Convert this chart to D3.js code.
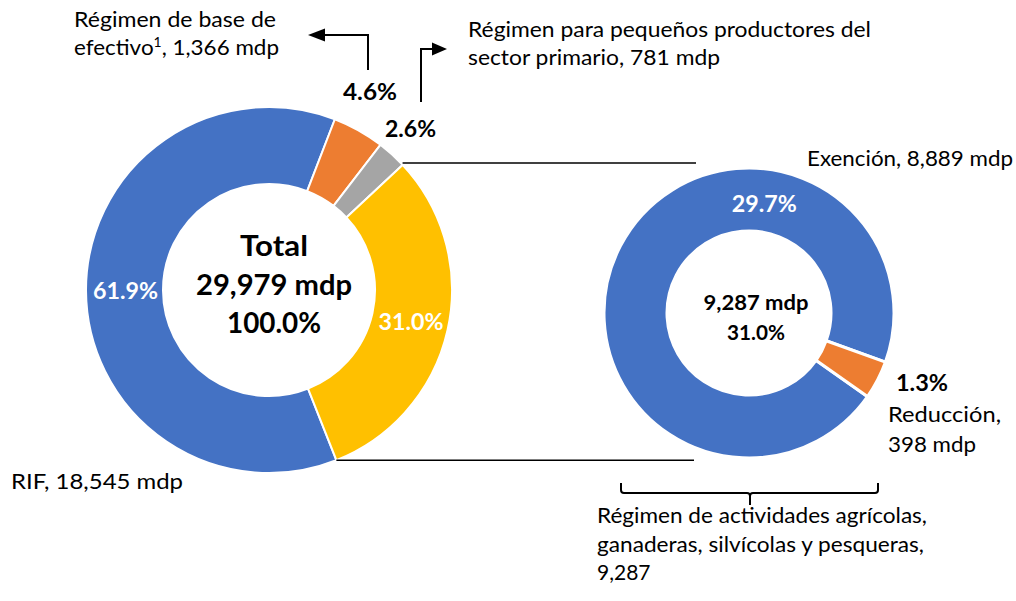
<!DOCTYPE html>
<html><head><meta charset="utf-8">
<script src="https://cdn.jsdelivr.net/npm/d3@7"></script>
<style>
html,body{margin:0;padding:0;background:#fff;}
svg{display:block;font-family:Lato,"Noto Sans",sans-serif;}
</style></head>
<body>
<svg id="chart" width="1016" height="601"></svg>
<script>
// ---- data ----
const leftCategories = ["RIF", "Régimen de base de efectivo", "Régimen para pequeños productores del sector primario", "Régimen de actividades agrícolas, ganaderas, silvícolas y pesqueras"];
const leftValues = [18545, 1366, 781, 9287];
const leftPercents = ["61.9%", "4.6%", "2.6%", "31.0%"];
const leftTotal = 29979;
const leftTotalPct = "100.0%";
const rightCategories = ["Exención", "Reducción"];
const rightValues = [8889, 398];
const rightPercents = ["29.7%", "1.3%"];
const rightTotal = 9287;
const rightTotalPct = "31.0%";

const colorsLeft = ["#4472C4", "#ED7D31", "#A5A5A5", "#FFC000"];
const colorsRight = ["#4472C4", "#ED7D31"];
const fmt = d3.format(",");
const deg = Math.PI / 180;

const svg = d3.select("#chart");

function txt(x, y, s, opts = {}) {
  const t = svg.append("text").attr("x", x).attr("y", y)
    .attr("font-size", opts.size || 21)
    .attr("font-weight", opts.bold ? 700 : 400)
    .attr("fill", opts.fill || "#000")
    .attr("text-anchor", opts.anchor || "start")
    .text(s);
  if (opts.len) t.attr("textLength", opts.len).attr("lengthAdjust", "spacingAndGlyphs");
  return t;
}
function polar(cx, cy, r, a) { return [cx + r * Math.sin(a), cy - r * Math.cos(a)]; }

// ---- left donut ----
const L = {cx: 269, cy: 290, R: 183, r: 106};
const leftStart = 158.4 * deg;
const pieL = d3.pie().sort(null).startAngle(leftStart).endAngle(leftStart + 2 * Math.PI);
const arcsL = pieL(leftValues);
const arcL = d3.arc().innerRadius(L.r).outerRadius(L.R);
const gL = svg.append("g").attr("transform", `translate(${L.cx},${L.cy})`);
gL.selectAll("path").data(arcsL).join("path")
  .attr("d", arcL).attr("fill", (d, i) => colorsLeft[i])
  .attr("stroke", "#fff").attr("stroke-width", 2);

// in-ring labels (RIF and agrícolas)
[0, 3].forEach(i => {
  const c = arcL.centroid(arcsL[i]);
  txt(L.cx + c[0] + 1, L.cy + c[1] + 8, leftPercents[i], {bold: true, fill: "#fff", anchor: "middle", size: 22, len: 65});
});

// center text
txt(274, 256, "Total", {bold: true, size: 29, anchor: "middle", len: 68});
txt(274, 295, fmt(leftTotal) + " mdp", {bold: true, size: 29, anchor: "middle", len: 156});
txt(274, 333, leftTotalPct, {bold: true, size: 29, anchor: "middle", len: 94});

// outside percentage labels for small slices
txt(370, 100, leftPercents[1], {bold: true, size: 22, anchor: "middle", len: 54});
txt(410.5, 137, leftPercents[2], {bold: true, size: 22, anchor: "middle", len: 51});

// arrows
svg.append("path").attr("d", "M368,70 L368,35 L324,35").attr("fill", "none").attr("stroke", "#000").attr("stroke-width", 2);
svg.append("path").attr("d", "M308,35 L325,28.5 L325,41.5 Z").attr("fill", "#000");
svg.append("path").attr("d", "M421,102 L421,49 L433,49").attr("fill", "none").attr("stroke", "#000").attr("stroke-width", 2);
svg.append("path").attr("d", "M447,49 L432,42.5 L432,55.5 Z").attr("fill", "#000");

// annotation texts (left)
txt(74, 27, "Régimen de base de", {len: 202});
const t2 = txt(74, 55, "", {len: 205});
t2.append("tspan").text("efectivo");
t2.append("tspan").attr("font-size", 13).attr("dy", -8).text("1");
t2.append("tspan").attr("dy", 8).text(", " + fmt(leftValues[1]) + " mdp");
txt(468, 37, "Régimen para pequeños productores del", {len: 403});
txt(468, 65, "sector primario, " + fmt(leftValues[2]) + " mdp", {len: 252});
txt(11, 489, leftCategories[0] + ", " + fmt(leftValues[0]) + " mdp", {size: 22, len: 172});

// ---- right donut ----
const Rt = {cx: 749, cy: 313, R: 145, r: 82};
const rightStart = 125.2 * deg;
const pieR = d3.pie().sort(null).startAngle(rightStart).endAngle(rightStart + 2 * Math.PI);
const arcsR = pieR(rightValues);
const arcR = d3.arc().innerRadius(Rt.r).outerRadius(Rt.R);
const gR = svg.append("g").attr("transform", `translate(${Rt.cx},${Rt.cy})`);
gR.selectAll("path").data(arcsR).join("path")
  .attr("d", arcR).attr("fill", (d, i) => colorsRight[i])
  .attr("stroke", "#fff").attr("stroke-width", 3);

// connector lines from left donut to right donut
const topPt = polar(L.cx, L.cy, L.R, arcsL[3].startAngle);
const botPt = polar(L.cx, L.cy, L.R, arcsL[3].endAngle);
svg.append("line").attr("x1", topPt[0]).attr("y1", topPt[1] - 2).attr("x2", 696).attr("y2", topPt[1] - 2).attr("stroke", "#000").attr("stroke-width", 1.5);
svg.append("line").attr("x1", botPt[0]).attr("y1", botPt[1]).attr("x2", 694).attr("y2", botPt[1]).attr("stroke", "#000").attr("stroke-width", 1.5);

// right labels
const p297 = polar(Rt.cx, Rt.cy, 110, 8 * deg);
txt(p297[0], p297[1] + 8, rightPercents[0], {bold: true, fill: "#fff", size: 22, anchor: "middle", len: 65});
txt(756, 310, fmt(rightTotal) + " mdp", {bold: true, size: 20, anchor: "middle", len: 105});
txt(756, 340, rightTotalPct, {bold: true, size: 20, anchor: "middle", len: 58});
txt(922, 391, rightPercents[1], {bold: true, size: 22, anchor: "middle", len: 52});
txt(807, 166, rightCategories[0] + ", " + fmt(rightValues[0]) + " mdp", {len: 206});
txt(888, 422, rightCategories[1] + ",", {len: 113});
txt(888, 452, fmt(rightValues[1]) + " mdp", {len: 88});

// brace
svg.append("path")
  .attr("d", "M621,483 L621,490 Q621,493 624,493 L747,493 Q750,493 750,496 L750,505 M750,496 Q750,493 753,493 L875,493 Q878,493 878,490 L878,483")
  .attr("fill", "none").attr("stroke", "#000").attr("stroke-width", 2);

// bottom label
txt(597, 523, "Régimen de actividades agrícolas,", {len: 330});
txt(597, 552, "ganaderas, silvícolas y pesqueras,", {len: 327});
txt(597, 580, fmt(rightTotal), {size: 21});
</script>
</body></html>
